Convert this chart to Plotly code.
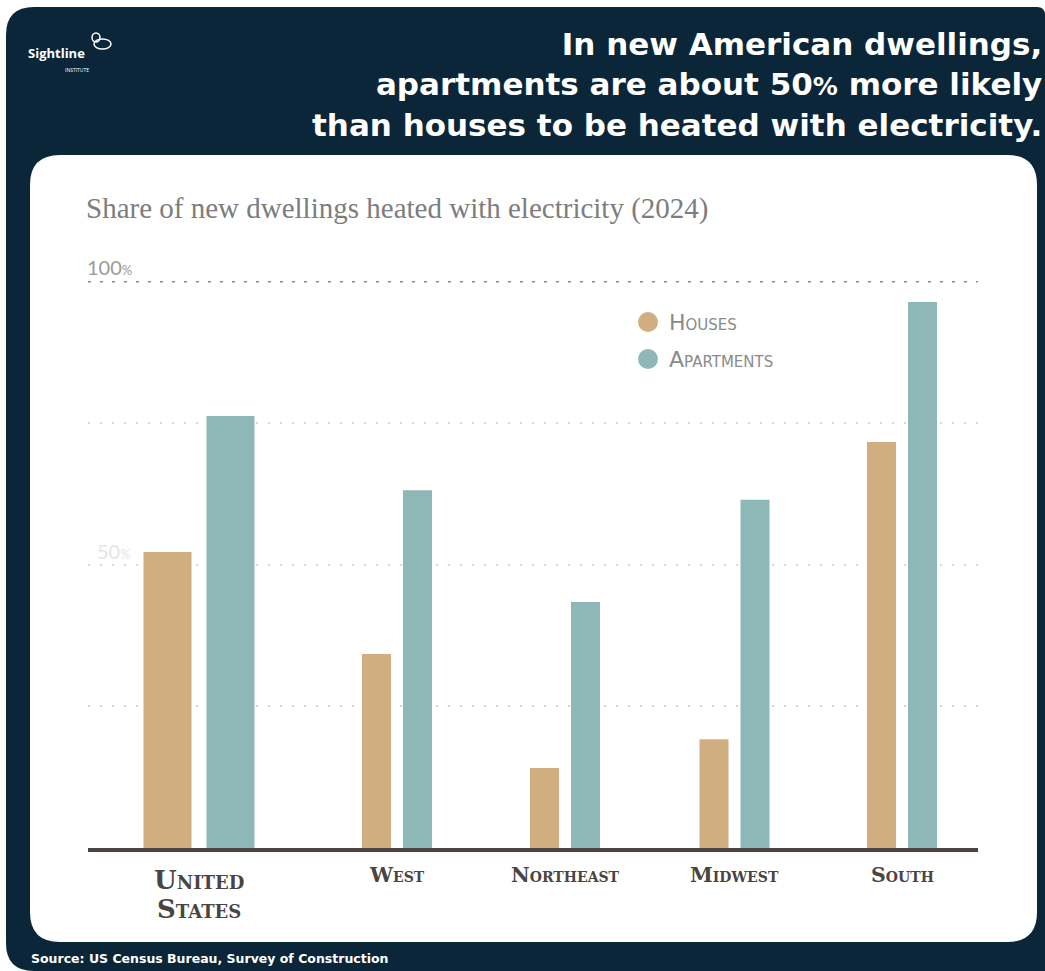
import plotly.graph_objects as go

# ---------------- data ----------------
regions = ["United<br>States", "West", "Northeast", "Midwest", "South"]
houses = [52.2, 34.2, 14.1, 19.2, 71.6]
apartments = [76.2, 63.1, 43.4, 61.4, 96.3]
series_names = ["Houses", "Apartments"]
grid_values = [25, 50, 75]
top_value = 100
percent_labels = {100: "100", 50: "50"}

# ---------------- layout constants ----------------
W, H = 1045, 971
NAVY = "#0b2639"
HOUSE_C = "#d0ae80"
APT_C = "#8db8b7"
AXIS_C = "#4b4441"

PLOT_X0, PLOT_X1 = 88, 978
PLOT_Y0, PLOT_Y1 = 848, 281  # bottom, top (px from top)
group_pos = [199, 397, 565, 734.5, 902]
bar_width = [48, 29, 29, 29, 29]
pair_gap = [15, 12, 12, 12, 12]
label_size = [26, 20.5, 20.5, 20.5, 20.5]
label_y = [880, 875, 875, 875, 875]
label_line_gap = 29


def px(x):
    return x / W


def py(y):
    return 1 - y / H


def rounded_rect(x0, y0, x1, y1, rtl, rtr, rbr, rbl):
    pts = [
        f"M{px(x0 + rtl)},{py(y0)}",
        f"L{px(x1 - rtr)},{py(y0)}",
        f"Q{px(x1)},{py(y0)} {px(x1)},{py(y0 + rtr)}",
        f"L{px(x1)},{py(y1 - rbr)}",
        f"Q{px(x1)},{py(y1)} {px(x1 - rbr)},{py(y1)}",
        f"L{px(x0 + rbl)},{py(y1)}",
        f"Q{px(x0)},{py(y1)} {px(x0)},{py(y1 - rbl)}",
        f"L{px(x0)},{py(y0 + rtl)}",
        f"Q{px(x0)},{py(y0)} {px(x0 + rtl)},{py(y0)}",
        "Z",
    ]
    return " ".join(pts)


house_offset = [-(w + g / 2) for w, g in zip(bar_width, pair_gap)]
apt_offset = [g / 2 for g in pair_gap]

fig = go.Figure()
fig.add_trace(go.Bar(
    x=group_pos, y=houses, width=bar_width, offset=house_offset,
    name=series_names[0], marker=dict(color=HOUSE_C, line=dict(width=0)),
    showlegend=False, hoverinfo="y",
))
fig.add_trace(go.Bar(
    x=group_pos, y=apartments, width=bar_width, offset=apt_offset,
    name=series_names[1], marker=dict(color=APT_C, line=dict(width=0)),
    showlegend=False, hoverinfo="y",
))

shapes = [
    dict(type="path", xref="paper", yref="paper", layer="below",
         path=rounded_rect(6, 7, 1045, 971, 28, 8, 0, 28),
         fillcolor=NAVY, line=dict(width=0)),
    dict(type="path", xref="paper", yref="paper", layer="below",
         path=rounded_rect(30, 155, 1037, 942, 30, 30, 30, 30),
         fillcolor="white", line=dict(width=0)),
    dict(type="line", xref="paper", yref="y", x0=px(PLOT_X0), x1=px(PLOT_X1),
         y0=top_value, y1=top_value, layer="below",
         line=dict(color="#8c8c8c", width=3, dash="3px,9px")),
    # logo icon
    dict(type="circle", xref="paper", yref="paper",
         x0=px(92), x1=px(100), y0=py(42), y1=py(33),
         line=dict(color="white", width=1.5)),
    dict(type="circle", xref="paper", yref="paper",
         x0=px(94), x1=px(111), y0=py(49), y1=py(39),
         line=dict(color="white", width=1.5)),
]

annotations = []
# title
annotations.append(dict(
    xref="paper", yref="paper", x=px(1044), y=py(24), xanchor="right", yanchor="top",
    align="right", showarrow=False,
    text=("In new American dwellings,<br>apartments are about 50<span style='font-size:25px'>%</span> more likely"
          "<br>than houses to be heated with electricity."),
    font=dict(family="DejaVu Sans", size=31, color="white", weight=700),
))
# subtitle
annotations.append(dict(
    xref="paper", yref="paper", x=px(84), y=py(208), xanchor="left", yanchor="middle",
    showarrow=False, text="Share of new dwellings heated with electricity (2024)",
    font=dict(family="Liberation Serif", size=29, color="#7d7d7d"),
))
# percent labels
annotations.append(dict(
    xref="paper", yref="y", x=px(85), y=100, xanchor="left", yanchor="bottom", yshift=0,
    showarrow=False, text=percent_labels[100] + "<span style='font-size:13px'>%</span>",
    font=dict(family="Lato", size=20, color="#9b9b9b"),
))
annotations.append(dict(
    xref="paper", yref="y", x=px(95), y=50, xanchor="left", yanchor="bottom", yshift=0,
    showarrow=False, text=percent_labels[50] + "<span style='font-size:13px'>%</span>",
    font=dict(family="Lato", size=20, color="#e4e4e4"),
))
# legend (manual)
for i, (nm, col) in enumerate(zip(series_names, [HOUSE_C, APT_C])):
    cy = 322 + 37 * i
    shapes.append(dict(type="circle", xref="paper", yref="paper",
                       x0=px(638), x1=px(658), y0=py(cy + 10), y1=py(cy - 10),
                       fillcolor=col, line=dict(width=0)))
    annotations.append(dict(
        xref="paper", yref="paper", x=px(667), y=py(cy), xanchor="left", yanchor="middle",
        showarrow=False, text=nm,
        font=dict(family="DejaVu Sans", size=22, color="#8a8a8a", variant="small-caps"),
    ))
# x labels (one annotation per line)
for xpos, lab, sz, ly in zip(group_pos, regions, label_size, label_y):
    for k, line in enumerate(lab.split("<br>")):
        annotations.append(dict(
            xref="x", yref="paper", x=xpos, y=py(ly + k * label_line_gap),
            xanchor="center", yanchor="middle",
            showarrow=False, text=line,
            font=dict(family="DejaVu Serif", size=sz, color=AXIS_C,
                      variant="small-caps", weight=700),
        ))
# source
annotations.append(dict(
    xref="paper", yref="paper", x=px(29), y=py(958), xanchor="left", yanchor="middle",
    showarrow=False, text="Source: US Census Bureau, Survey of Construction",
    font=dict(family="DejaVu Sans", size=12.5, color="white", weight=700),
))
# logo text
annotations.append(dict(
    xref="paper", yref="paper", x=px(26), y=py(53), xanchor="left", yanchor="middle",
    showarrow=False, text="Sightline",
    font=dict(family="Open Sans", size=13, color="white", weight=700),
))
annotations.append(dict(
    xref="paper", yref="paper", x=px(63), y=py(70), xanchor="left", yanchor="middle",
    showarrow=False, text="INSTITUTE",
    font=dict(family="Open Sans", size=5, color="white"),
))

fig.update_layout(
    width=W, height=H, autosize=False,
    margin=dict(l=0, r=0, t=0, b=0, pad=0),
    paper_bgcolor="white", plot_bgcolor="rgba(0,0,0,0)",
    barmode="overlay",
    showlegend=False,
    xaxis=dict(domain=[px(PLOT_X0), px(PLOT_X1)], range=[PLOT_X0, PLOT_X1],
               showgrid=False, zeroline=False, showticklabels=False, ticks="",
               showline=True, linecolor=AXIS_C, linewidth=3.5, fixedrange=True),
    yaxis=dict(domain=[py(PLOT_Y0), py(PLOT_Y1)], range=[0, top_value],
               tickvals=grid_values, showticklabels=False, ticks="",
               showgrid=True, gridcolor="#d8d8d8", gridwidth=2, griddash="2px,10px",
               zeroline=False, showline=False, fixedrange=True),
    shapes=shapes,
    annotations=annotations,
)

fig.write_html("out.html", config={"displayModeBar": False},
               post_script="document.body.style.margin='0';document.body.style.overflow='hidden';")
